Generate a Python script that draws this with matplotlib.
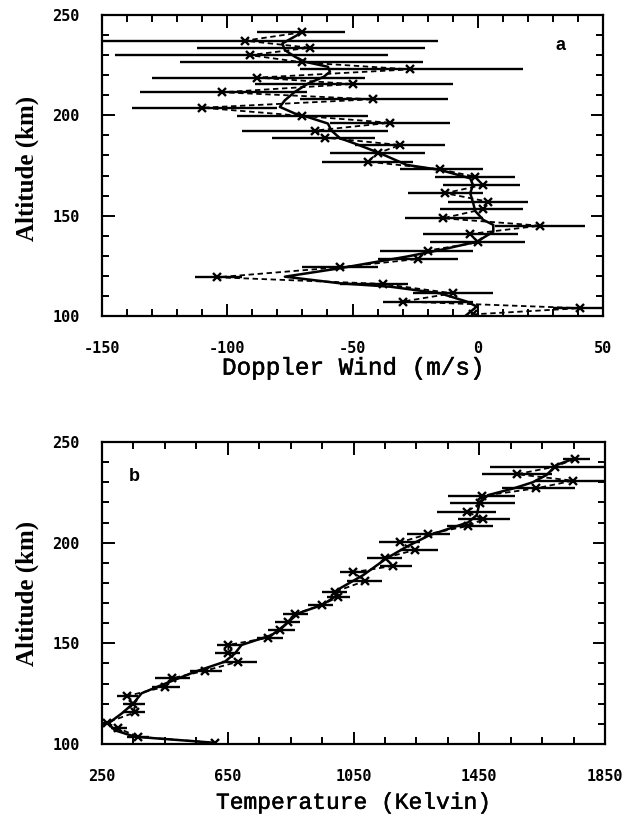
import numpy as np
import matplotlib
matplotlib.use("Agg")
import matplotlib.pyplot as plt
import matplotlib.patheffects as pe
from matplotlib.ticker import MultipleLocator, FixedLocator

plt.rcParams["axes.unicode_minus"] = False

# ---------------- Panel a: Doppler wind ----------------
wind_alt = [241.4, 237.2, 233.7, 230.0, 226.4, 222.9, 218.8, 215.6, 211.5, 208.0,
            203.8, 199.7, 196.3, 192.4, 188.9, 185.2, 181.1, 176.9, 173.1, 169.4,
            165.3, 161.2, 157.0, 153.2, 148.7, 145.0, 140.9, 136.7, 132.6, 128.4,
            124.3, 119.3, 116.0, 111.3, 107.2, 103.9, 100.8]
wind_val = [-70, -93, -67, -91, -70, -27, -88, -50, -102, -42,
            -110, -70, -35, -65, -61, -31, -40, -44, -15, -1,
            2, -13, 4, 2, -14, 25, -3, 0, -20, -24,
            -55, -104, -38, -10, -30, 41, -2]
wind_lo = [-88, -165, -112, -145, -119, -71, -130, -89, -135, -71,
           -138, -96, -59, -94, -82, -49, -59, -62, -31, -17,
           -14, -28, -12, -15, -29, 7, -22, -19, -39, -40,
           -70, -113, -55, -26, -38, 30, -2]
wind_hi = [-53, -16, -21, -36, -22, 18, -45, -10, -68, -12,
           -80, -44, -11, -36, -41, -13, -21, -26, 2, 15,
           17, 2, 20, 18, 2, 43, 16, 19, -2, -8,
           -40, -94, -28, 6, -2, 55, -2]

wind_fit_alt = [100.0, 104.7, 107.2, 111.3, 114.6, 116.3, 119.6, 123.8, 129.6, 132.9,
                137.0, 142.0, 145.4, 147.9, 152.3, 156.2, 161.2, 165.3, 168.6, 172.8,
                175.3, 181.1, 185.9, 188.6, 192.5, 195.9, 199.2, 200.9, 204.2, 207.5,
                211.7, 215.8, 219.2, 221.7, 224.2, 226.7, 229.2, 232.5, 235.8, 241.4]
wind_fit_val = [-5, -0.4, -4.4, -15, -35, -55, -77, -55, -28.4, -15,
                -0.4, 6.2, 6.2, 2.2, -1, -1.8, -3, -1.9, -3, -15,
                -28.4, -39, -49, -55, -58.5, -59.8, -68, -73, -79, -77,
                -73, -67.8, -61.5, -59, -59.8, -69, -73, -77, -78, -70]

wind_ticks = [-150, -100, -50, 0, 50]

# ---------------- Panel b: Temperature ----------------
temp_alt = [241.6, 237.7, 234.0, 230.8, 227.0, 223.2, 219.5, 215.4, 211.7, 208.3,
            204.3, 200.2, 196.3, 192.5, 188.5, 185.3, 181.0, 175.6, 173.1, 169.0,
            164.6, 160.7, 156.6, 152.8, 149.2, 145.0, 140.9, 136.4, 132.6, 128.4,
            123.8, 119.8, 115.7, 110.6, 107.8, 103.6, 100.6]
temp_val = [1754, 1690, 1569, 1748, 1632, 1458, 1452, 1410, 1463, 1415,
            1288, 1198, 1245, 1150, 1177, 1049, 1087, 991, 1001, 949,
            864, 841, 816, 779, 652, 652, 684, 578, 472, 450,
            329, 350, 355, 265, 302, 365, 609]
temp_lo = [1716, 1484, 1458, 1627, 1521, 1351, 1357, 1315, 1383, 1348,
           1219, 1131, 1198, 1092, 1134, 1007, 1028, 950, 965, 906,
           827, 800, 779, 742, 615, 609, 631, 530, 419, 408,
           297, 318, 318, 250, 280, 330, 609]
temp_hi = [1802, 1900, 1681, 1900, 1754, 1564, 1564, 1503, 1548, 1493,
           1357, 1261, 1318, 1203, 1235, 1092, 1140, 1030, 1040, 986,
           906, 880, 864, 827, 694, 689, 742, 631, 530, 498,
           366, 387, 387, 280, 330, 400, 609]

temp_fit_alt = [100.6, 103.6, 106.8, 110.2, 115.2, 120.2, 125.2, 129.3, 135.9, 140.9,
                145.0, 149.2, 154.1, 159.1, 164.9, 169.0, 173.1, 177.3, 183.9, 192.2,
                198.0, 203.8, 207.1, 210.1, 213.7, 220.4, 223.7, 227.0, 230.0, 233.6,
                238.6, 241.6]
temp_fit_val = [609, 355, 291, 270, 313, 350, 376, 440, 546, 641,
                673, 694, 790, 832, 874, 949, 991, 1007, 1081, 1155,
                1219, 1293, 1357, 1415, 1442, 1452, 1480, 1560, 1620, 1664,
                1696, 1749]

temp_ticks = [250, 650, 1050, 1450, 1850]
alt_ticks = [100, 150, 200, 250]

W, H = 632, 817
fig = plt.figure(figsize=(W / 100, H / 100), dpi=100)

thicken = [pe.withStroke(linewidth=0.35, foreground="black")]


def style_axes(ax, xmajor, xminor_step):
    for s in ax.spines.values():
        s.set_linewidth(1.6)
    ax.xaxis.set_major_locator(FixedLocator(xmajor))
    ax.xaxis.set_minor_locator(FixedLocator(
        np.arange(xmajor[0], xmajor[-1] + 1e-9, xminor_step)))
    ax.yaxis.set_major_locator(FixedLocator(alt_ticks))
    ax.yaxis.set_minor_locator(MultipleLocator(10))
    ax.tick_params(which="both", direction="in", top=True, right=True, width=1.4)
    ax.tick_params(which="major", length=9)
    ax.tick_params(which="minor", length=5)
    ax.tick_params(axis="x", which="major", pad=18)
    ax.tick_params(axis="y", which="major", pad=16)
    for lab in ax.get_xticklabels() + ax.get_yticklabels():
        lab.set_fontfamily("DejaVu Sans Mono")
        lab.set_fontweight("bold")
        lab.set_fontsize(11)


def draw_profile(ax, alt, val, lo, hi, fa, fv):
    alt = np.array(alt, float)
    val = np.array(val, float)
    lo = np.array(lo, float)
    hi = np.array(hi, float)
    ax.errorbar(val, alt, xerr=[val - lo, hi - val], fmt="none", ecolor="black",
                elinewidth=1.7, capsize=0)
    ax.plot(val, alt, linestyle=(0, (3, 2)), color="black", lw=1.3)
    ax.plot(val, alt, "x", color="black", ms=5.5, mew=1.7, linestyle="none")
    ax.plot(fv, fa, "-", color="black", lw=1.8)


ylab_kw = dict(fontsize=18, fontweight="bold", family="Liberation Serif")

# Panel a
ax1 = fig.add_axes([102 / W, 1 - 316 / H, 501 / W, 301 / H])
draw_profile(ax1, wind_alt, wind_val, wind_lo, wind_hi, wind_fit_alt, wind_fit_val)
ax1.set_xlim(-150, 50)
ax1.set_ylim(100, 250)
style_axes(ax1, wind_ticks, 10)
ax1.set_xlabel("Doppler Wind (m/s)", fontsize=17.5, family="Liberation Mono",
               path_effects=thicken)
ax1.xaxis.set_label_coords(0.5, -0.135)
ax1.set_ylabel("Altitude (km)", **ylab_kw)
ax1.yaxis.set_label_coords(-0.125, 0.49)
ax1.text(0.915, 0.9, "a", transform=ax1.transAxes, fontsize=13,
         fontweight="bold", family="Liberation Sans", ha="center", va="center")

# Panel b
ax2 = fig.add_axes([102 / W, 1 - 744 / H, 503 / W, 302 / H])
draw_profile(ax2, temp_alt, temp_val, temp_lo, temp_hi, temp_fit_alt, temp_fit_val)
ax2.set_xlim(250, 1850)
ax2.set_ylim(100, 250)
style_axes(ax2, temp_ticks, 100)
ax2.set_xlabel("Temperature (Kelvin)", fontsize=16.5, family="Liberation Mono",
               path_effects=thicken)
ax2.xaxis.set_label_coords(0.5, -0.155)
ax2.set_ylabel("Altitude (km)", **ylab_kw)
ax2.yaxis.set_label_coords(-0.125, 0.5)
ax2.text(0.065, 0.885, "b", transform=ax2.transAxes, fontsize=13,
         fontweight="bold", family="Liberation Sans", ha="center", va="center")

fig.savefig("out.png", dpi=100)
